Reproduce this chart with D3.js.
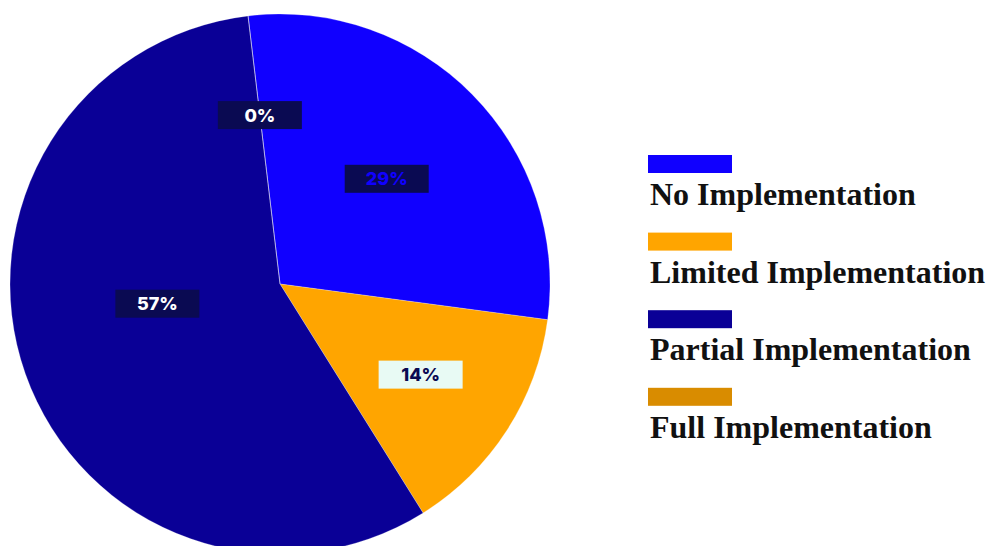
<!DOCTYPE html>
<html>
<head>
<meta charset="utf-8">
<script src="https://cdn.jsdelivr.net/npm/d3@7"></script>
<style>
  html, body { margin: 0; padding: 0; background: #fff; }
  svg { display: block; }
</style>
</head>
<body>
<div id="chart"></div>
<script>
// Data
const categories = ["No Implementation", "Limited Implementation", "Partial Implementation", "Full Implementation"];
const values = [29, 14, 57, 0];
const colors = ["#1000ff", "#ffa500", "#0a0096", "#d98c00"];
const labelBg = ["#0a0a52", "#e8faf4", "#0a0a52", "#0a0a52"];
const labelFg = ["#1000ff", "#0a0a52", "#ffffff", "#ffffff"];

const W = 986, H = 546;
const cx = 280, cy = 284, r = 270;
const start = -6.8 * Math.PI / 180;

const svg = d3.select("#chart")
    .append("svg")
    .attr("width", W)
    .attr("height", H);

const pie = d3.pie()
    .sort(null)
    .value(d => d)
    .startAngle(start)
    .endAngle(start + 2 * Math.PI);

const arcs = pie(values);
const total = d3.sum(values);

const arc = d3.arc().innerRadius(0).outerRadius(r);

const g = svg.append("g").attr("transform", `translate(${cx},${cy})`);

g.selectAll("path")
    .data(arcs)
    .join("path")
    .attr("d", arc)
    .attr("fill", (d, i) => colors[i])
    .attr("stroke", "rgba(255,255,255,0.3)")
    .attr("stroke-width", 0.8);

// label position: centroid of the visible part of each slice, pushed outward a bit
function labelPos(d) {
    if (d.endAngle - d.startAngle < 1e-6) {
        const a = d.startAngle, rr = r * 0.63;
        return [Math.sin(a) * rr, -Math.cos(a) * rr];
    }
    let sx = 0, sy = 0, n = 0;
    for (let y = -r; y <= r; y += 3) {
        if (cy + y > H - 40) continue;
        for (let x = -r; x <= r; x += 3) {
            if (x * x + y * y > r * r) continue;
            let a = Math.atan2(x, -y);
            while (a < d.startAngle) a += 2 * Math.PI;
            while (a > d.startAngle + 2 * Math.PI) a -= 2 * Math.PI;
            if (a <= d.endAngle) { sx += x; sy += y; n++; }
        }
    }
    let px = sx / n, py = sy / n;
    const dist = Math.hypot(px, py);
    const target = Math.max(dist * 0.96, r * 0.46);
    return [px / dist * target, py / dist * target];
}

const fmt = v => Math.round(v / total * 100) + "%";

const labels = g.selectAll("g.lbl")
    .data(arcs)
    .join("g")
    .attr("class", "lbl")
    .attr("transform", d => `translate(${labelPos(d)})`);

labels.append("rect")
    .attr("x", -42)
    .attr("y", -14)
    .attr("width", 84)
    .attr("height", 28)
    .attr("fill", (d, i) => labelBg[i]);

labels.append("text")
    .attr("text-anchor", "middle")
    .attr("dy", "0.36em")
    .style("font-family", "Inter, 'Open Sans', sans-serif")
    .style("font-weight", "800")
    .style("font-size", "18px")
    .attr("fill", (d, i) => labelFg[i])
    .text(d => fmt(d.value));

// Legend
const legend = svg.append("g").attr("transform", "translate(648,155)");
const item = legend.selectAll("g")
    .data(categories)
    .join("g")
    .attr("transform", (d, i) => `translate(0,${i * 77.6})`);

item.append("rect")
    .attr("width", 84)
    .attr("height", 18)
    .attr("fill", (d, i) => colors[i]);

item.append("text")
    .attr("x", 2)
    .attr("y", 50)
    .style("font-family", "'Liberation Serif', serif")
    .style("font-weight", "bold")
    .style("font-size", "32px")
    .attr("fill", "#111")
    .text(d => d);
</script>
</body>
</html>
